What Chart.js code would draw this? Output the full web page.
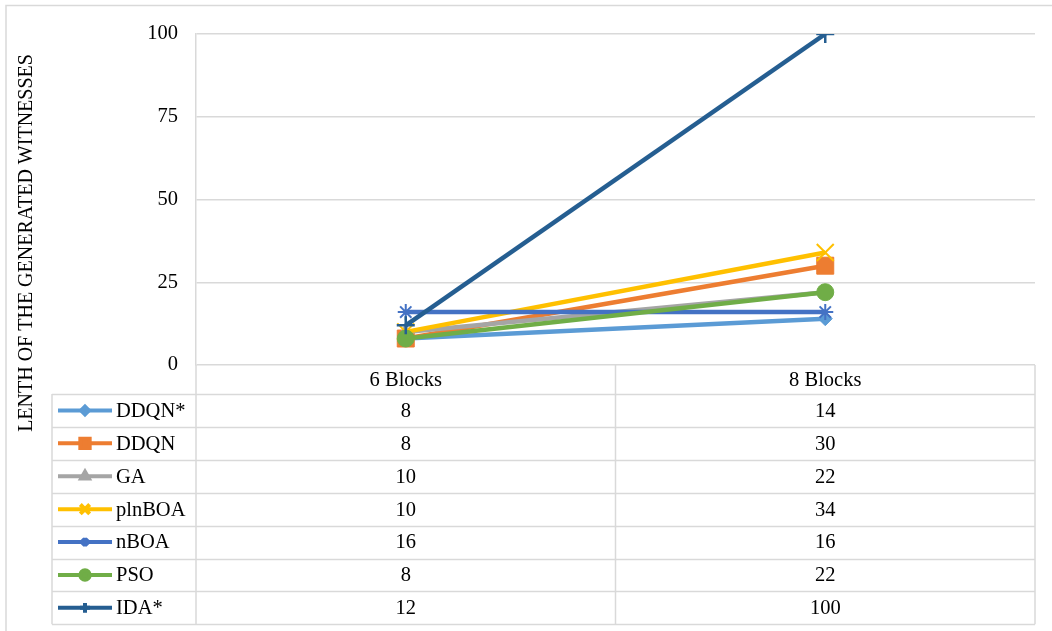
<!DOCTYPE html>
<html>
<head>
<meta charset="utf-8">
<script src="https://cdn.jsdelivr.net/npm/chart.js@4/dist/chart.umd.min.js"></script>
<style>
  html, body { margin: 0; padding: 0; background: #fff; }
  #wrap { width: 1052px; height: 631px; position: relative; }
</style>
</head>
<body>
<div id="wrap"><canvas id="chart"></canvas></div>
<script>
const categories = ['6 Blocks', '8 Blocks'];
const seriesNames = ['DDQN*', 'DDQN', 'GA', 'plnBOA', 'nBOA', 'PSO', 'IDA*'];
const ddqnStar = [8, 14];
const ddqn = [8, 30];
const ga = [10, 22];
const plnBoa = [10, 34];
const nBoa = [16, 16];
const pso = [8, 22];
const idaStar = [12, 100];
const yTicks = [0, 25, 50, 75, 100];
const yTitle = 'LENTH OF THE GENERATED WITNESSES';

const seriesValues = [ddqnStar, ddqn, ga, plnBoa, nBoa, pso, idaStar];
const colors = ['#5B9BD5', '#ED7D31', '#A5A5A5', '#FFC000', '#4472C4', '#70AD47', '#255E91'];
const markers = [
  { style: 'rectRot', radius: 7, border: 1 },
  { style: 'rect', radius: 12, border: 1 },
  { style: 'triangle', radius: 8, border: 1 },
  { style: 'crossRot', radius: 12, border: 2 },
  { style: 'star', radius: 8, border: 2 },
  { style: 'circle', radius: 8.5, border: 1 },
  { style: 'cross', radius: 9, border: 2.5 },
];

const FONT = '"Liberation Serif", "Times New Roman", serif';
const TEXT_SIZE = 20.5;
const GRID = '#D9D9D9';

// layout of the data table under the plot
const tableLeft = 52;
const headerHeight = 29;
const rowHeight = 32.9;

const datasets = seriesNames.map((name, i) => ({
  label: name,
  data: seriesValues[i],
  borderColor: colors[i],
  backgroundColor: colors[i],
  borderWidth: 4.5,
  tension: 0,
  pointStyle: markers[i].style,
  pointRadius: markers[i].radius,
  pointBorderWidth: markers[i].border,
  pointBackgroundColor: colors[i],
  pointBorderColor: colors[i],
  order: seriesNames.length - i,
}));

const dataTable = {
  id: 'dataTable',
  afterDraw(chart) {
    const { ctx, chartArea, scales } = chart;
    const x = scales.x;
    const left = chartArea.left;
    const right = chartArea.right;
    const top = chartArea.bottom;
    const mid = (x.getPixelForValue(0) + x.getPixelForValue(1)) / 2;
    const rowsTop = top + headerHeight;
    const bottom = rowsTop + rowHeight * seriesNames.length;

    ctx.save();
    // outer frame
    ctx.strokeStyle = GRID;
    ctx.lineWidth = 1.5;
    ctx.strokeRect(6, 5.5, 1200, 800);

    // table grid
    ctx.beginPath();
    ctx.moveTo(left, top); ctx.lineTo(left, bottom);
    ctx.moveTo(mid, top); ctx.lineTo(mid, bottom);
    ctx.moveTo(right, top); ctx.lineTo(right, bottom);
    ctx.moveTo(tableLeft, rowsTop); ctx.lineTo(tableLeft, bottom);
    for (let r = 0; r <= seriesNames.length; r++) {
      const y = Math.round(rowsTop + r * rowHeight) + 0.5;
      ctx.moveTo(tableLeft, y); ctx.lineTo(right, y);
    }
    ctx.stroke();

    ctx.fillStyle = '#000';
    ctx.font = TEXT_SIZE + 'px ' + FONT;
    ctx.textAlign = 'center';
    ctx.textBaseline = 'middle';
    categories.forEach((c, i) => {
      ctx.fillText(c, x.getPixelForValue(i), top + headerHeight / 2 + 1);
    });

    seriesNames.forEach((name, r) => {
      const cy = rowsTop + r * rowHeight + rowHeight / 2;
      // legend key
      ctx.strokeStyle = colors[r];
      ctx.lineWidth = 4;
      ctx.beginPath();
      ctx.moveTo(58, cy); ctx.lineTo(112, cy);
      ctx.stroke();
      ctx.fillStyle = colors[r];
      ctx.strokeStyle = colors[r];
      Chart.helpers.drawPoint(ctx, {
        pointStyle: markers[r].style,
        radius: markers[r].radius * 0.55,
        rotation: 0,
        borderWidth: markers[r].border,
      }, 85, cy);

      ctx.fillStyle = '#000';
      ctx.textAlign = 'left';
      ctx.fillText(name, 116, cy + 1);
      ctx.textAlign = 'center';
      seriesValues[r].forEach((v, i) => {
        ctx.fillText(String(v), x.getPixelForValue(i), cy + 1);
      });
    });

    // rotated axis title
    ctx.font = '20px ' + FONT;
    ctx.translate(27, 243);
    ctx.rotate(-Math.PI / 2);
    ctx.fillText(yTitle, 0, 0);
    ctx.restore();
  },
};

new Chart(document.getElementById('chart'), {
  type: 'line',
  data: { labels: categories, datasets },
  options: {
    responsive: true,
    maintainAspectRatio: false,
    animation: false,
    layout: { padding: { top: 34, right: 17, bottom: 266, left: 0 } },
    plugins: { legend: { display: false }, tooltip: { enabled: false } },
    scales: {
      x: { display: false, offset: true },
      y: {
        min: 0,
        max: 100,
        afterFit: scale => { scale.width = 196; },
        afterBuildTicks: scale => { scale.ticks = yTicks.map(v => ({ value: v })); },
        grid: { color: GRID, lineWidth: 1.5, drawTicks: false },
        border: { color: GRID, width: 1.5 },
        ticks: {
          padding: 18,
          color: '#000',
          font: { family: FONT, size: TEXT_SIZE },
        },
      },
    },
  },
  plugins: [dataTable],
});
</script>
</body>
</html>
